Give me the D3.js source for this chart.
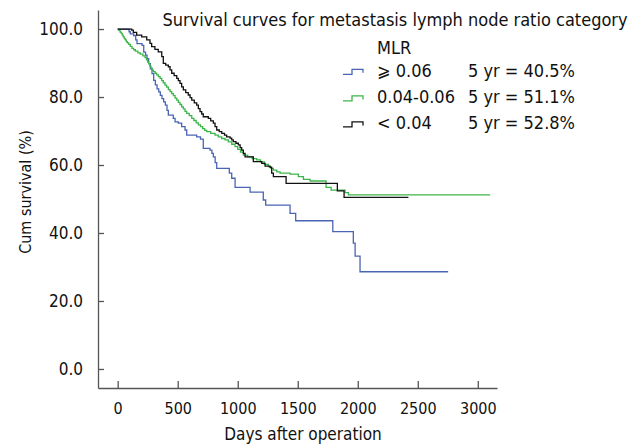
<!DOCTYPE html>
<meta charset="utf-8">
<style>
	body { margin: 0; background: #fff; }
	svg text { font-family: "DejaVu Sans Condensed", "DejaVu Sans", sans-serif; font-stretch: condensed; fill: #111; }
	.axis path, .axis line { stroke: #555; stroke-width: 1.3; }
</style>

<div id="chartBx"></div>

<script src="https://cdn.jsdelivr.net/npm/d3@7"></script>
<script>

	// 데이터 : [days, survival %] (KM step)
	var groups = ["⩾ 0.06", "0.04-0.06", "< 0.04"];
	var fiveYr = ["5 yr = 40.5%", "5 yr = 51.1%", "5 yr = 52.8%"];
	var colors = ["#4a64b4", "#3cb54a", "#111111"];

	var mlrHigh = [[0,100],[95,99.2],[105,98.6],[133,98.1],[150,96.8],[161,95.7],[203,95.2],[217,93.2],[232,92.3],[244,91.3],
		[258,89.8],[272,88.3],[286,86.9],[300,84.9],[314,83.6],[328,82.4],[342,81.5],[355,80.5],[369,79.5],[383,78.6],
		[397,77.6],[411,76.1],[422,74.7],[463,73.7],[478,72.7],[505,72.3],[533,71.3],[561,70.3],[575,68.8],[658,68.3],
		[690,67.6],[713,64.9],[769,64.4],[785,63.4],[797,62.4],[812,60.7],[825,59.0],[930,57.6],[950,56.1],[978,53.4],
		[1103,52.0],[1213,49.7],[1233,48.2],[1436,45.8],[1483,43.6],[1792,40.4],[1963,37.0],[1978,33.2],[2019,28.6],[2753,28.6]];

	var mlrMid = [[0,100],[10,99.6],[20,99.1],[30,98.7],[38,98.2],[46,97.7],[55,97.2],[63,96.8],[72,96.3],[80,95.9],
		[92,95.5],[105,94.9],[119,94.3],[133,93.9],[147,93.5],[168,93.0],[188,92.6],[210,92.1],[228,91.6],[240,90.9],
		[250,90.3],[258,89.8],[268,89.1],[277,88.5],[286,87.9],[298,87.5],[311,87.0],[325,86.5],[339,86.0],[353,85.5],
		[367,84.8],[380,84.2],[394,83.5],[408,82.9],[422,82.2],[436,81.6],[450,81.0],[464,80.4],[478,79.7],[492,79.1],
		[505,78.4],[519,77.8],[533,77.1],[547,76.5],[561,75.8],[575,75.2],[596,74.5],[617,73.7],[635,73.1],[654,72.4],
		[672,71.8],[690,71.3],[708,70.7],[725,70.2],[742,69.8],[775,69.3],[811,68.8],[838,68.3],[866,67.8],[894,67.4],
		[922,66.8],[950,66.1],[978,65.4],[1000,64.6],[1023,63.8],[1047,62.9],[1083,62.4],[1120,61.9],[1158,61.5],[1190,60.9],
		[1222,60.2],[1255,59.5],[1276,59.0],[1297,58.5],[1325,58.0],[1353,57.6],[1436,57.3],[1505,56.6],[1547,55.8],[1603,55.3],
		[1736,53.4],[1778,52.6],[1894,51.9],[1922,51.2],[3103,51.2]];

	var mlrLow = [[0,100],[117,99.7],[130,99.0],[158,98.2],[200,97.7],[242,96.8],[269,95.8],[283,94.8],[310,94.0],[338,93.3],
		[367,91.9],[380,89.9],[400,89.4],[422,88.9],[436,88.0],[450,87.0],[470,86.3],[492,85.5],[505,84.8],[519,84.0],
		[533,83.0],[547,82.1],[567,81.3],[588,80.6],[603,79.8],[617,79.1],[638,78.3],[658,77.6],[672,76.6],[686,75.7],
		[700,75.0],[713,74.2],[755,73.7],[775,73.0],[797,72.3],[811,71.3],[825,70.3],[846,69.8],[867,69.3],[890,68.8],
		[908,68.3],[936,67.9],[950,67.4],[963,66.9],[985,66.4],[1005,65.9],[1020,65.1],[1033,64.4],[1047,63.4],[1061,62.4],
		[1130,61.0],[1200,60.5],[1228,59.7],[1269,59.3],[1283,57.6],[1297,56.6],[1403,54.6],[1830,52.4],[1886,50.5],[2422,50.5]];

	var xTicks = [0, 500, 1000, 1500, 2000, 2500, 3000];
	var yTicks = [0, 20, 40, 60, 80, 100];

	makeKMChart("chartBx", 642, 444);

	function makeKMChart(div_id, pWidth, pHeight) {

		var svg = d3.select("#" + div_id).append("svg")
			.attr("width", pWidth)
			.attr("height", pHeight);

		// 축 범위 (축선은 0 보다 바깥까지)
		var x = d3.scaleLinear().domain([-164, 3160]).range([98, 497]);
		var y = d3.scaleLinear().domain([-5.6, 105.6]).range([388, 10]);

		var xAxis = d3.axisBottom(x).tickValues(xTicks).tickFormat(d3.format("d"))
			.tickSizeInner(-7).tickSizeOuter(0).tickPadding(14.6);
		var yAxis = d3.axisLeft(y).tickValues(yTicks).tickFormat(d3.format(".1f"))
			.tickSizeInner(-6).tickSizeOuter(0).tickPadding(15);

		var gx = svg.append("g")
			.attr("class", "axis")
			.attr("transform", "translate(0,388)")
			.call(xAxis);

		var gy = svg.append("g")
			.attr("class", "axis")
			.attr("transform", "translate(98,0)")
			.call(yAxis);

		gx.attr("font-family", null).selectAll("text").attr("font-size", 16).attr("fill", "#111");
		gy.attr("font-family", null).selectAll("text").attr("font-size", 17).attr("fill", "#111");

		// 축 제목
		svg.append("text")
			.attr("x", 303)
			.attr("y", 440)
			.attr("text-anchor", "middle")
			.attr("font-size", 17)
			.text("Days after operation");

		svg.append("text")
			.attr("transform", "translate(31,192) rotate(-90)")
			.attr("text-anchor", "middle")
			.attr("font-size", 16)
			.text("Cum survival (%)");

		// KM 곡선
		var line = d3.line()
			.x(function(d) { return x(d[0]); })
			.y(function(d) { return y(d[1]); })
			.curve(d3.curveStepAfter);

		[mlrHigh, mlrMid, mlrLow].forEach(function(series, i) {
			svg.append("path")
				.datum(series)
				.attr("fill", "none")
				.attr("stroke", colors[i])
				.attr("stroke-width", 1.3)
				.attr("d", line);
		});

		// 제목 + 범례
		svg.append("text")
			.attr("x", 395)
			.attr("y", 26)
			.attr("text-anchor", "middle")
			.attr("font-size", 18)
			.text("Survival curves for metastasis lymph node ratio category");

		svg.append("text")
			.attr("x", 377)
			.attr("y", 54)
			.attr("font-size", 18)
			.text("MLR");

		var rowY = [76.7, 103.3, 129.3];
		groups.forEach(function(g, i) {
			var base = rowY[i] - 2.4;
			svg.append("path")
				.attr("fill", "none")
				.attr("stroke", colors[i])
				.attr("stroke-width", 1.3)
				.attr("d", "M343," + base + "H352V" + (base - 5) + "H363V" + (base - 1.5));
			svg.append("text")
				.attr("x", 377)
				.attr("y", rowY[i])
				.attr("font-size", 18)
				.text(g);
			svg.append("text")
				.attr("x", 468)
				.attr("y", rowY[i])
				.attr("font-size", 18)
				.text(fiveYr[i]);
		});
	}

</script>
